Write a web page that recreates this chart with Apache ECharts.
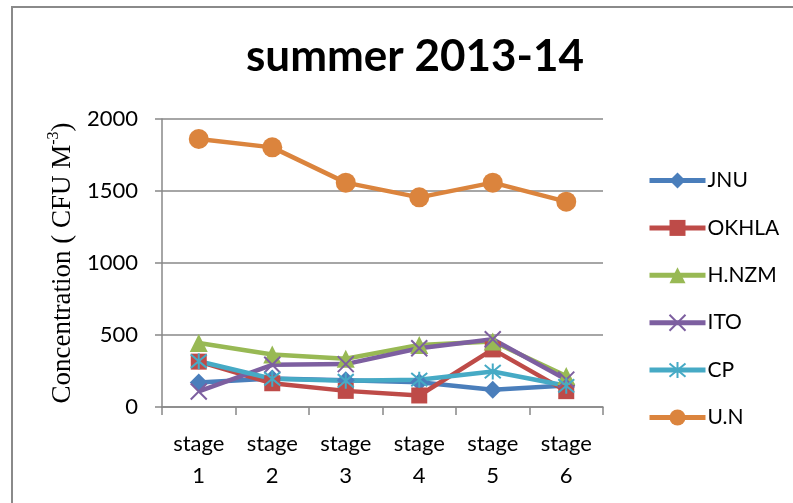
<!DOCTYPE html>
<html><head><meta charset="utf-8">
<script src="https://cdn.jsdelivr.net/npm/echarts@6/dist/echarts.min.js"></script>
<style>html,body{margin:0;padding:0;background:#fff}#c{width:793px;height:503px}</style>
</head><body><div id="c"></div>
<script>
const categories = ['stage\n1','stage\n2','stage\n3','stage\n4','stage\n5','stage\n6'];
const JNU   = [170, 198, 185, 172, 120, 150];
const OKHLA = [315, 165, 112, 80, 400, 110];
const HNZM  = [445, 365, 335, 430, 455, 215];
const ITO   = [108, 293, 298, 408, 470, 190];
const CP    = [318, 196, 182, 190, 246, 147];
const UN    = [1861, 1803, 1558, 1456, 1558, 1426];
const yTicks = [0, 500, 1000, 1500, 2000];

const X_PATH = 'path://M0,0L10,10M10,0L0,10';
const AST_PATH = 'path://M0,0L10,10M10,0L0,10M5,-1L5,11';
const FONT = 'Lato';

function mk(name, data, color, symbol, size, stroke) {
  return {
    name, type: 'line', data, symbol, symbolSize: size,
    lineStyle: { color, width: 4.5 },
    itemStyle: stroke ? { color: color, borderColor: color, borderWidth: 2 } : { color },
    emphasis: { disabled: true },
    z: 2
  };
}
const chart = echarts.init(document.getElementById('c'));
chart.setOption({
  animation: false,
  title: {
    text: 'summer 2013-14', left: 410, top: 30, textAlign: 'center',
    textStyle: { fontFamily: FONT, fontWeight: 'bold', fontSize: 44, color: '#000' }
  },
  graphic: [{
    type: 'rect', shape: { x: 12, y: 7, width: 820, height: 540 },
    style: { fill: 'none', stroke: '#8a8a8a', lineWidth: 2 }, silent: true
  }],
  legend: {
    orient: 'vertical', left: 642, top: 165, itemWidth: 56, itemHeight: 20, itemGap: 26.4,
    lineStyle: { width: 5 },
    textStyle: { fontFamily: FONT, fontSize: 21, color: '#000', lineHeight: 20, padding: [0,0,0,-3] },
    data: ['JNU','OKHLA','H.NZM','ITO','CP','U.N']
  },
  grid: { left: 162, right: 190, top: 119, bottom: 96, containLabel: false },
  xAxis: {
    type: 'category', data: categories, boundaryGap: true,
    axisLine: { lineStyle: { color: '#888', width: 1.5 } },
    axisTick: { show: true, length: 8, lineStyle: { color: '#888', width: 1.5 } },
    axisLabel: { fontFamily: FONT, fontSize: 22, color: '#000', lineHeight: 32, margin: 21 }
  },
  yAxis: {
    type: 'value', min: 0, max: 2000, interval: 500,
    name: '{a|Concentration ( CFU M}{s|-3}{a|)}', nameLocation: 'middle', nameGap: 86, nameRotate: 90,
    nameTextStyle: { rich: {
      a: { fontFamily: 'Liberation Serif', fontSize: 27, color: '#000', lineHeight: 30, verticalAlign: 'bottom' },
      s: { fontFamily: 'Liberation Serif', fontSize: 16, color: '#000', lineHeight: 30, verticalAlign: 'top' }
    } },
    axisLine: { show: true, lineStyle: { color: '#888', width: 1.5 } },
    axisTick: { show: true, length: 7, lineStyle: { color: '#888', width: 1.5 } },
    splitLine: { lineStyle: { color: '#888', width: 1.5 } },
    axisLabel: { fontFamily: FONT, fontSize: 22, color: '#000', margin: 24,
      formatter: v => yTicks.includes(v) ? String(v) : '' }
  },
  series: [
    mk('JNU', JNU, '#4A7EBB', 'diamond', 18),
    mk('OKHLA', OKHLA, '#BE4B48', 'rect', 16),
    mk('H.NZM', HNZM, '#98B954', 'triangle', 18),
    mk('ITO', ITO, '#7D5FA0', X_PATH, 16, true),
    mk('CP', CP, '#46AAC5', AST_PATH, 16, true),
    mk('U.N', UN, '#DB843D', 'circle', 20)
  ]
});
</script></body></html>
